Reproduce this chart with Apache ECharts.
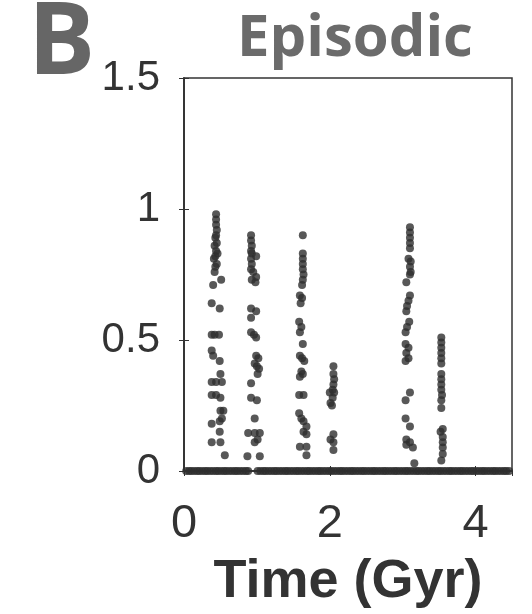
<!DOCTYPE html>
<html>
<head>
<meta charset="utf-8">
<script src="https://cdn.jsdelivr.net/npm/echarts@6/dist/echarts.min.js"></script>
<style>html,body{margin:0;padding:0;background:#fff}#c{width:532px;height:614px}</style>
</head>
<body>
<div id="c"></div>
<script>
// ---- data ----
var panelLabel = 'B';
var titleText = 'Episodic';
var xAxisName = 'Time (Gyr)';
var xTicks = [0, 2, 4];
var yTicks = [0, 0.5, 1, 1.5];

// quiescent points (value 0) along the time axis
var zeroX = [0.03,0.07,0.10,0.14,0.18,0.21,0.25,0.29,0.32,0.36,0.40,0.44,0.47,0.51,0.55,0.58,0.62,0.66,0.70,0.73,0.77,0.81,0.85,0.88,
  1.01,1.05,1.09,1.12,1.16,1.20,1.24,1.27,1.31,1.35,1.39,1.42,1.46,1.50,1.54,1.57,1.61,1.65,1.69,1.72,1.76,1.80,1.84,1.87,1.91,1.95,1.99,
  2.02,2.06,2.10,2.14,2.17,2.21,2.25,2.29,2.32,2.36,2.40,2.44,2.47,2.51,2.55,2.59,2.62,2.66,2.70,2.74,2.77,2.81,2.85,2.89,2.92,2.96,
  3.00,3.04,3.07,3.11,3.15,3.19,3.22,3.26,3.30,3.34,3.37,3.41,3.45,3.49,3.52,3.56,3.60,3.64,3.67,3.71,3.75,3.79,3.82,3.86,3.90,3.94,3.97,
  4.01,4.05,4.09,4.12,4.16,4.20,4.24,4.27,4.31,4.35,4.39,4.42,4.46];

var episode1 = [[0.44,0.98],[0.44,0.96],[0.44,0.94],[0.45,0.92],[0.44,0.90],[0.43,0.89],[0.45,0.87],[0.42,0.86],[0.44,0.84],[0.46,0.83],[0.43,0.82],[0.41,0.81],[0.45,0.79],[0.43,0.78],[0.42,0.76],
  [0.40,0.71],[0.51,0.73],[0.38,0.64],[0.49,0.62],[0.38,0.52],[0.42,0.52],[0.48,0.52],[0.38,0.46],[0.40,0.44],[0.49,0.42],
  [0.50,0.37],[0.38,0.34],[0.44,0.34],[0.52,0.34],[0.38,0.29],[0.44,0.29],[0.50,0.28],[0.50,0.23],[0.54,0.23],[0.38,0.18],[0.49,0.19],[0.52,0.20],
  [0.49,0.15],[0.38,0.11],[0.50,0.11],[0.56,0.06]];
var episode2 = [[0.92,0.90],[0.92,0.88],[0.93,0.86],[0.92,0.84],[0.93,0.83],[0.92,0.81],[0.99,0.82],[0.93,0.79],[0.92,0.77],[0.95,0.76],[0.99,0.74],[0.93,0.73],[0.98,0.72],
  [0.92,0.62],[0.99,0.61],[0.92,0.585],[0.92,0.53],[0.96,0.52],[0.99,0.51],[0.99,0.44],[1.02,0.43],[0.97,0.41],[1.00,0.40],[1.03,0.39],[1.01,0.37],
  [0.92,0.335],[0.92,0.28],[1.00,0.27],[0.97,0.20],[0.88,0.145],[0.97,0.145],[1.04,0.145],[0.97,0.11],[1.01,0.12],[0.87,0.056],[1.04,0.056]];
var episode3 = [[1.63,0.90],[1.63,0.83],[1.63,0.81],[1.63,0.79],[1.63,0.77],[1.64,0.75],[1.63,0.73],[1.62,0.71],
  [1.59,0.67],[1.62,0.66],[1.60,0.64],[1.58,0.57],[1.61,0.55],[1.59,0.53],[1.63,0.485],[1.59,0.44],[1.62,0.43],[1.65,0.42],
  [1.61,0.38],[1.63,0.37],[1.59,0.36],[1.58,0.29],[1.64,0.29],[1.58,0.22],[1.61,0.20],[1.64,0.19],[1.68,0.17],[1.68,0.14],[1.64,0.15],
  [1.59,0.093],[1.68,0.093],[1.68,0.06]];
var episode4 = [[2.05,0.40],[2.05,0.37],[2.06,0.35],[2.05,0.33],[2.04,0.31],[2.00,0.30],[2.06,0.30],[2.04,0.28],[2.01,0.26],[2.03,0.25],
  [2.05,0.14],[2.01,0.12],[2.05,0.11],[2.05,0.08]];
var episode5 = [[3.10,0.93],[3.10,0.91],[3.10,0.89],[3.10,0.87],[3.10,0.85],[3.08,0.81],[3.11,0.80],[3.10,0.78],[3.11,0.76],[3.10,0.75],[3.05,0.72],
  [3.10,0.67],[3.08,0.65],[3.06,0.63],[3.05,0.61],[3.09,0.57],[3.06,0.55],[3.04,0.53],[3.04,0.485],[3.08,0.47],[3.05,0.45],[3.08,0.43],[3.04,0.42],
  [3.10,0.30],[3.04,0.27],[3.04,0.20],[3.10,0.17],[3.05,0.12],[3.05,0.10],[3.10,0.11],[3.14,0.09],[3.16,0.03]];
var episode6 = [[3.53,0.51],[3.53,0.49],[3.53,0.47],[3.53,0.45],[3.53,0.43],[3.53,0.41],[3.53,0.37],[3.53,0.35],[3.53,0.33],[3.53,0.31],[3.54,0.29],[3.53,0.27],[3.53,0.24],
  [3.55,0.16],[3.52,0.15],[3.55,0.13],[3.55,0.11],[3.55,0.09],[3.55,0.065],[3.53,0.04]];

// ---- chart ----
var dotColor = '#2e2e2e';
var axisColor = '#333';
var zeroData = zeroX.map(function (x) { return [x, 0]; });
var allEpisodes = [episode1, episode2, episode3, episode4, episode5, episode6];

var series = [{
  type: 'scatter', data: zeroData, symbolSize: 8, itemStyle: { color: dotColor }, clip: false, silent: true
}];
allEpisodes.forEach(function (ep) {
  series.push({ type: 'scatter', data: ep, symbolSize: 8, itemStyle: { color: dotColor }, clip: false, silent: true });
});

var chart = echarts.init(document.getElementById('c'), null, { renderer: 'canvas' });
chart.setOption({
  animation: false,
  backgroundColor: '#fff',
  grid: { left: 184, right: 20, top: 78, bottom: 134, show: true, borderColor: axisColor, borderWidth: 1.5, backgroundColor: 'transparent' },
  title: {
    text: titleText, left: 350, top: 5, textAlign: 'center',
    textStyle: { fontFamily: 'Open Sans', fontWeight: 'bold', fontSize: 58, color: '#6b6b6b' }
  },
  graphic: [{
    type: 'text', left: 28, top: -4,
    style: { text: panelLabel, font: 'bold 100px "Open Sans"', fill: '#666' }
  }],
  xAxis: [{
    type: 'value', min: 0, max: 4.5, interval: 2, position: 'bottom',
    name: xAxisName, nameLocation: 'middle', nameGap: 84,
    nameTextStyle: { fontFamily: 'Liberation Sans', fontWeight: 'bold', fontSize: 54, color: '#333' },
    axisLine: { show: true, lineStyle: { color: axisColor, width: 1.5 } },
    axisTick: { show: true, inside: true, length: 5, lineStyle: { color: axisColor } },
    axisLabel: {
      show: true, margin: 30, fontFamily: 'Liberation Sans', fontSize: 47, color: '#333', showMaxLabel: false,
      formatter: function (v) { return xTicks.indexOf(v) >= 0 ? String(v) : ''; }
    },
    splitLine: { show: false }
  }, {
    type: 'value', min: 0, max: 4.5, interval: 2, position: 'top',
    axisLine: { show: true, lineStyle: { color: axisColor, width: 1.5 } },
    axisTick: { show: true, inside: true, length: 5, lineStyle: { color: axisColor } },
    axisLabel: { show: false }, splitLine: { show: false }
  }],
  yAxis: [{
    type: 'value', min: 0, max: 1.5, interval: 0.5, position: 'left',
    axisLine: { show: true, lineStyle: { color: axisColor, width: 1.5 } },
    axisTick: { show: true, inside: true, length: 5, lineStyle: { color: axisColor } },
    axisLabel: {
      show: true, margin: 24, fontFamily: 'Liberation Sans', fontSize: 42, color: '#333',
      formatter: function (v) { return yTicks.indexOf(v) >= 0 ? String(v) : ''; }
    },
    splitLine: { show: false }
  }, {
    type: 'value', min: 0, max: 1.5, interval: 0.5, position: 'right',
    axisLine: { show: true, lineStyle: { color: axisColor, width: 1.5 } },
    axisTick: { show: true, inside: true, length: 5, lineStyle: { color: axisColor } },
    axisLabel: { show: false }, splitLine: { show: false }
  }],
  series: series
});
</script>
</body>
</html>
